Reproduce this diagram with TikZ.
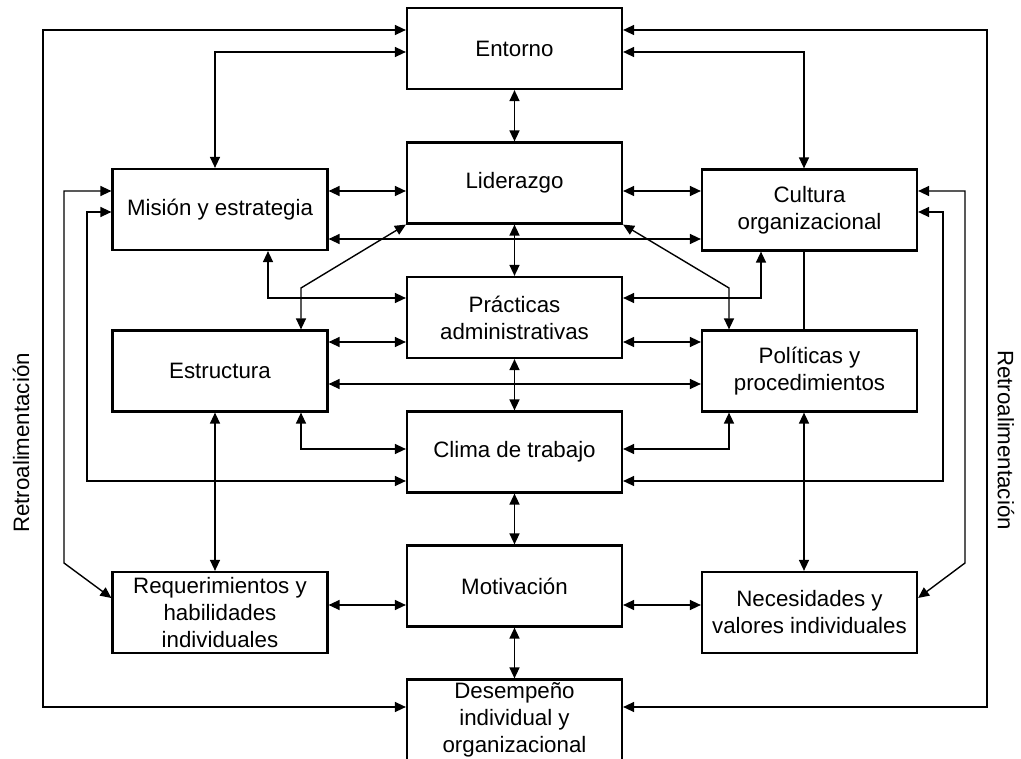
\documentclass[tikz,border=0pt]{standalone}
\usepackage{fontspec}
\setmainfont{Liberation Sans}
\usetikzlibrary{arrows.meta}
\begin{document}
\begin{tikzpicture}[x=1pt,y=-1pt,
  box/.style={draw,line width=2.2pt,minimum width=215pt,minimum height=81pt,inner sep=0pt,align=center,
    font=\fontsize{22.3pt}{27pt}\selectfont},
  conn/.style={line width=1.4pt,{Triangle[length=11pt,width=10pt]}-{Triangle[length=11pt,width=10pt]}},
  plain/.style={line width=1.4pt},
  side/.style={font=\fontsize{22.3pt}{27pt}\selectfont,inner sep=0pt}]
\useasboundingbox (0,0) rectangle (1021,759);
% center column
\node[box] (entorno) at (514.5,48.5) {Entorno};
\node[box] (liderazgo) at (514.5,183) {Liderazgo};
\node[box] (practicas) at (514.5,317.5) {Prácticas\\administrativas};
\node[box] (clima) at (514.5,452) {Clima de trabajo};
\node[box] (motivacion) at (514.5,586) {Motivación};
\node[box] (desempeno) at (514.5,720) {Desempeño\\individual y\\organizacional};
% left column
\node[box] (mision) at (220,209.5) {Misión y estrategia};
\node[box] (estructura) at (220,371) {Estructura};
\node[box] (requer) at (220,612.5) {Requerimientos y\\habilidades\\individuales};
% right column
\node[box] (cultura) at (809.5,210) {Cultura\\organizacional};
\node[box] (politicas) at (809.5,371) {Políticas y\\procedimientos};
\node[box] (necesidades) at (809.5,612.5) {Necesidades y\\valores individuales};
% side labels
\node[side,rotate=90] (retroL) at (21,443) {Retroalimentación};
\node[side,rotate=-90] (retroR) at (1006,440) {Retroalimentación};
% vertical center chain
\draw[conn] (entorno) -- (liderazgo);
\draw[conn] (liderazgo) -- (practicas);
\draw[conn] (practicas) -- (clima);
\draw[conn] (clima) -- (motivacion);
\draw[conn] (motivacion) -- (desempeno);
% top links
\draw[conn] (mision.north -| 215,0) |- (entorno.west |- 0,52);
\draw[conn] (cultura.north -| 804,0) |- (entorno.east |- 0,52);
% outer feedback
\draw[conn] (entorno.west |- 0,30) -- (43,30) -- (43,707) -- (desempeno.west |- 0,707);
\draw[conn] (entorno.east |- 0,30) -- (987,30) -- (987,707) -- (desempeno.east |- 0,707);
% horizontal links row 1
\draw[conn] (mision.east |- 0,191) -- (liderazgo.west |- 0,191);
\draw[conn] (liderazgo.east |- 0,191) -- (cultura.west |- 0,191);
\draw[conn] (mision.east |- 0,239) -- (cultura.west |- 0,239);
% to practicas
\draw[conn] (mision.south -| 268,0) |- (practicas.west |- 0,298);
\draw[conn] (cultura.south -| 761,0) |- (practicas.east |- 0,298);
% diagonals from liderazgo
\draw[conn] (liderazgo.south west) -- (301,288) -- (estructura.north -| 301,0);
\draw[conn] (liderazgo.south east) -- (729,288) -- (politicas.north -| 729,0);
% middle rows
\draw[conn] (estructura.east |- 0,342) -- (practicas.west |- 0,342);
\draw[conn] (practicas.east |- 0,342) -- (politicas.west |- 0,342);
\draw[conn] (estructura.east |- 0,384) -- (politicas.west |- 0,384);
\draw[conn] (estructura.south -| 301,0) |- (clima.west |- 0,449);
\draw[conn] (politicas.south -| 729,0) |- (clima.east |- 0,449);
% inner feedback to clima
\draw[conn] (mision.west |- 0,212) -- (87,212) -- (87,481) -- (clima.west |- 0,481);
\draw[conn] (cultura.east |- 0,212) -- (943,212) -- (943,481) -- (clima.east |- 0,481);
% feedback to individual boxes
\draw[conn] (mision.west |- 0,191) -- (64,191) -- (64,563) -- (requer.west |- 0,598);
\draw[conn] (cultura.east |- 0,191) -- (965,191) -- (965,563) -- (necesidades.east |- 0,598);
% verticals
\draw[conn] (estructura.south -| 215,0) -- (requer.north -| 215,0);
\draw[conn] (politicas.south -| 804,0) -- (necesidades.north -| 804,0);
\draw[plain] (cultura.south -| 804,0) -- (politicas.north -| 804,0);
% bottom row
\draw[conn] (requer.east |- 0,605) -- (motivacion.west |- 0,605);
\draw[conn] (motivacion.east |- 0,605) -- (necesidades.west |- 0,605);
\end{tikzpicture}
\end{document}
